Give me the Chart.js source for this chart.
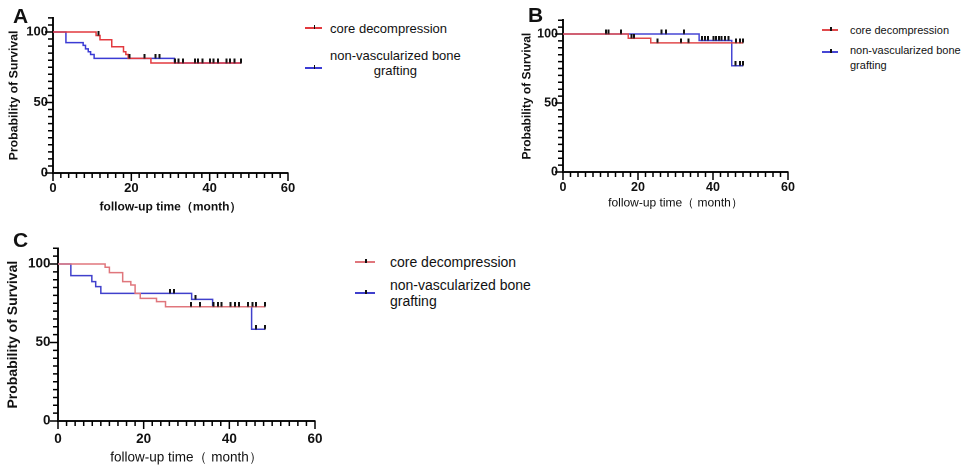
<!DOCTYPE html>
<html>
<head>
<meta charset="utf-8">
<script src="https://cdn.jsdelivr.net/npm/chart.js@4.4.0/dist/chart.umd.min.js"></script>
<style>
  body { margin: 0; background: #fff; width: 975px; height: 469px; position: relative; overflow: hidden;
         font-family: "Liberation Sans", Arial, sans-serif; color: #111; }
  canvas { position: absolute; }
  .letter { position: absolute; font-weight: bold; font-size: 21px; line-height: 21px; }
  .leg { position: absolute; white-space: nowrap; }
  .sym { position: absolute; height: 1.5px; }
  .sym i { position: absolute; left: 50%; bottom: 0; width: 1.5px; height: 4px; background: #111; }
</style>
</head>
<body>
<script>
// Panel A
var aCoreTime = [0, 11, 12, 15, 18, 18.6, 19.2, 25, 48];
var aCoreSurv = [100, 97.5, 94.5, 89.5, 86, 84, 81.3, 78, 78];
var aBoneTime = [0, 3.3, 7.7, 8.3, 9, 9.6, 10.5, 31, 48];
var aBoneSurv = [100, 92.5, 90.5, 88, 86, 84, 81.3, 78, 78];
var aCoreCensor = [11.6, 19.5, 23.3, 32, 36.2, 38.2, 41, 44.3, 46.3, 48];
var aBoneCensor = [26.2, 27.2, 31.1, 33.2, 37, 40.1, 42.1, 45.2, 48];

// Panel B
var bCoreTime = [0, 17.4, 23.4, 48];
var bCoreSurv = [100, 96.9, 93.6, 93.6];
var bBoneTime = [0, 36.3, 45, 48];
var bBoneSurv = [100, 95.3, 77, 77];
var bCoreCensor = [11.4, 12.1, 15.4, 18.3, 18.9, 25.2, 31.5, 33.4, 46.1, 47.2, 48];
var bBoneCensor = [26.3, 27.4, 32.3, 37, 37.8, 38.6, 40.1, 40.8, 41.6, 42.3, 43.2, 44.1, 46, 47.2, 48];

// Panel C
var cCoreTime = [0, 11, 12, 15.1, 17, 18, 19.2, 23, 25.1, 48.3];
var cCoreSurv = [100, 97.9, 94.5, 88.8, 86.6, 81.3, 78.1, 76, 72.8, 72.8];
var cBoneTime = [0, 3, 7.9, 8.8, 10, 31.2, 36.1, 45.2, 48.3];
var cBoneSurv = [100, 92.6, 88.8, 85.6, 81.3, 77.5, 72.8, 58.4, 58.4];
var cCoreCensor = [31.1, 33.2, 36.3, 38.2, 41.3, 44.3, 45.4, 46.2, 48.3];
var cBoneCensor = [26.1, 27.1, 32.1, 37.3, 40.3, 42.3, 46.2, 48.3];

var panelLetters = ["A", "B", "C"];
var seriesNames = [["core decompression"], ["non-vascularized bone", "grafting"]];
var xTickLabels = [0, 20, 40, 60];
var yTickLabels = [0, 50, 100];
var yTitle = "Probability of Survival";
var xTitles = ["follow-up time（month）", "follow-up time（ month）", "follow-up time（ month）"];

var FONT = '"Liberation Sans", Arial, sans-serif';
Chart.defaults.font.family = FONT;
Chart.defaults.color = "#111";

var MINOR_LEN = 4;   // largo de las marcas menores fuera del eje
var MAJOR_LEN = 7;   // largo de las marcas con etiqueta

// valor de la curva escalonada en el tiempo t
function stepValue(times, survs, t) {
  var s = survs[0];
  for (var i = 0; i < times.length; i++) {
    if (times[i] <= t) s = survs[i];
  }
  return s;
}

function toPoints(times, survs) {
  return times.map(function (t, i) { return { x: t, y: survs[i] }; });
}

function censorPoints(times, survs, censor) {
  return censor.map(function (t) { return { x: t, y: stepValue(times, survs, t) }; });
}

// marca de censura: trazo vertical que sube desde la curva
var tickImg = document.createElement("canvas");
tickImg.width = 2;
tickImg.height = 9;
var tctx = tickImg.getContext("2d");
tctx.fillStyle = "#111";
tctx.fillRect(0, 0, 2, 4.5);

// marcas de los ejes: cortas en cada tick, largas donde hay etiqueta
var axisTicks = {
  id: "axisTicks",
  afterDraw: function (chart) {
    var ctx = chart.ctx, xs = chart.scales.x, ys = chart.scales.y;
    ctx.save();
    ctx.strokeStyle = "#000";
    ctx.lineWidth = 1.5;
    ctx.beginPath();
    xs.ticks.forEach(function (t) {
      var px = xs.getPixelForValue(t.value);
      var len = xTickLabels.indexOf(t.value) >= 0 ? MAJOR_LEN : MINOR_LEN;
      ctx.moveTo(px, xs.top);
      ctx.lineTo(px, xs.top + 1 + len);
    });
    ys.ticks.forEach(function (t) {
      var py = ys.getPixelForValue(t.value);
      var len = yTickLabels.indexOf(t.value) >= 0 ? MAJOR_LEN : MINOR_LEN;
      ctx.moveTo(ys.right - 1 - len, py);
      ctx.lineTo(ys.right, py);
    });
    ctx.stroke();
    ctx.restore();
  }
};

var panels = [
  {
    box: [0, 0, 300, 222], area: { l: 53, r: 288, t: 17.9, b: 173 },
    yTitleX: 14, yTitleFont: { size: 12.3, weight: "bold" },
    xTitleY: 207, xTitleFont: { size: 12, weight: "bold" },
    tickFont: { size: 13, weight: "bold" }, yPad: 0, xPad: 2.5,
    coreColor: "#e2393e", boneColor: "#3b3bd4",
    core: [aCoreTime, aCoreSurv, aCoreCensor], bone: [aBoneTime, aBoneSurv, aBoneCensor],
    letter: [13, 5],
    legend: { symX: 305, symW: 17, textX: 330, size: 13, lh: 15, y1: 28, y2: 55, sym2: 68, center: true }
  },
  {
    box: [505, 0, 300, 222], area: { l: 563, r: 788, t: 20.2, b: 172 },
    yTitleX: 527, yTitleFont: { size: 12, weight: "bold" },
    xTitleY: 203, xTitleFont: { size: 12, weight: "normal" },
    tickFont: { size: 12.5, weight: "bold" }, yPad: 0, xPad: 3,
    coreColor: "#e04a4c", boneColor: "#4646d4",
    core: [bCoreTime, bCoreSurv, bCoreCensor], bone: [bBoneTime, bBoneSurv, bBoneCensor],
    letter: [528, 4],
    legend: { symX: 822, symW: 16, textX: 850, size: 11, lh: 15, y1: 30, y2: 50, sym2: 52, center: false }
  },
  {
    box: [0, 222, 330, 247], area: { l: 58, r: 315, t: 248.3, b: 421 },
    yTitleX: 13, yTitleFont: { size: 14, weight: "bold" },
    xTitleY: 458, xTitleFont: { size: 13.5, weight: "normal" },
    tickFont: { size: 13.5, weight: "bold" }, yPad: 2.5, xPad: 5,
    coreColor: "#e0767c", boneColor: "#4040cc",
    core: [cCoreTime, cCoreSurv, cCoreCensor], bone: [cBoneTime, cBoneSurv, cBoneCensor],
    letter: [13, 229],
    legend: { symX: 355, symW: 20, textX: 390, size: 14, lh: 16, y1: 262, y2: 285, sym2: 293, center: false }
  }
];

function addDiv(cls, css, text) {
  var d = document.createElement("div");
  d.className = cls;
  d.style.cssText = css;
  if (text) d.textContent = text;
  document.body.appendChild(d);
  return d;
}

function addSymbol(x, y, w, color) {
  var s = addDiv("sym", "left:" + x + "px;top:" + (y - 0.75) + "px;width:" + w + "px;background:" + color + ";");
  s.appendChild(document.createElement("i"));
}

panels.forEach(function (p, k) {
  var box = { x: p.box[0], y: p.box[1], w: p.box[2], h: p.box[3] };
  var yHalf = p.yTitleFont.size * 1.2 / 2;
  var xHalf = p.xTitleFont.size * 1.2 / 2;
  var yAxisW = p.area.l - p.yTitleX + yHalf;
  var xAxisH = p.xTitleY + xHalf - p.area.b;

  var canvas = document.createElement("canvas");
  canvas.width = box.w;
  canvas.height = box.h;
  canvas.style.left = box.x + "px";
  canvas.style.top = box.y + "px";
  document.body.appendChild(canvas);

  var coreLine = toPoints(p.core[0], p.core[1]);
  var boneLine = toPoints(p.bone[0], p.bone[1]);

  new Chart(canvas.getContext("2d"), {
    type: "line",
    data: {
      datasets: [
        { label: seriesNames[0].join(" "), data: coreLine, borderColor: p.coreColor, borderWidth: 1.5,
          stepped: true, pointRadius: 0, fill: false, order: 1 },
        { label: seriesNames[1].join(" "), data: boneLine, borderColor: p.boneColor, borderWidth: 1.5,
          stepped: true, pointRadius: 0, fill: false, order: 1 },
        { label: "core censored", data: censorPoints(p.core[0], p.core[1], p.core[2]), showLine: false,
          pointStyle: tickImg, pointRadius: 3, order: 0 },
        { label: "bone censored", data: censorPoints(p.bone[0], p.bone[1], p.bone[2]), showLine: false,
          pointStyle: tickImg, pointRadius: 3, order: 0 }
      ]
    },
    options: {
      responsive: false,
      animation: false,
      devicePixelRatio: 2,
      layout: {
        padding: {
          left: p.yTitleX - yHalf - box.x,
          top: p.area.t - box.y,
          right: box.x + box.w - p.area.r,
          bottom: box.y + box.h - (p.xTitleY + xHalf)
        }
      },
      plugins: { legend: { display: false }, tooltip: { enabled: false } },
      scales: {
        x: {
          type: "linear", min: 0, max: 60,
          afterFit: function (scale) { scale.height = xAxisH; },
          border: { color: "#111", width: 2 },
          grid: { display: false, drawTicks: true, tickLength: MINOR_LEN + 1 },
          ticks: {
            stepSize: 2, maxTicksLimit: 100, autoSkip: false, maxRotation: 0, padding: p.xPad, color: "#111",
            font: p.tickFont,
            callback: function (v) { return xTickLabels.indexOf(v) >= 0 ? String(v) : ""; }
          },
          title: { display: true, text: xTitles[k], font: p.xTitleFont, padding: 0, color: "#111" }
        },
        y: {
          min: 0, max: 110,
          afterFit: function (scale) { scale.width = yAxisW; },
          border: { color: "#111", width: 2 },
          grid: { display: false, drawTicks: true, tickLength: MINOR_LEN + 1 },
          ticks: {
            stepSize: 5, maxTicksLimit: 100, autoSkip: false, padding: p.yPad, color: "#111",
            font: p.tickFont,
            callback: function (v) { return yTickLabels.indexOf(v) >= 0 ? String(v) : ""; }
          },
          title: { display: true, text: yTitle, font: p.yTitleFont, padding: 0, color: "#111" }
        }
      }
    },
    plugins: [axisTicks]
  });

  // letra del panel
  addDiv("letter", "left:" + p.letter[0] + "px;top:" + p.letter[1] + "px;", panelLetters[k]);

  // leyenda
  var L = p.legend;
  addSymbol(L.symX, L.y1, L.symW, p.coreColor);
  addDiv("leg", "left:" + L.textX + "px;top:" + (L.y1 - L.lh / 2) + "px;font-size:" + L.size +
    "px;line-height:" + L.lh + "px;", seriesNames[0][0]);
  addSymbol(L.symX, L.sym2, L.symW, p.boneColor);
  var second = addDiv("leg", "left:" + L.textX + "px;top:" + (L.y2 - L.lh / 2) + "px;font-size:" + L.size +
    "px;line-height:" + L.lh + "px;text-align:" + (L.center ? "center" : "left") + ";");
  second.innerHTML = seriesNames[1].join("<br>");
});
</script>
</body>
</html>
